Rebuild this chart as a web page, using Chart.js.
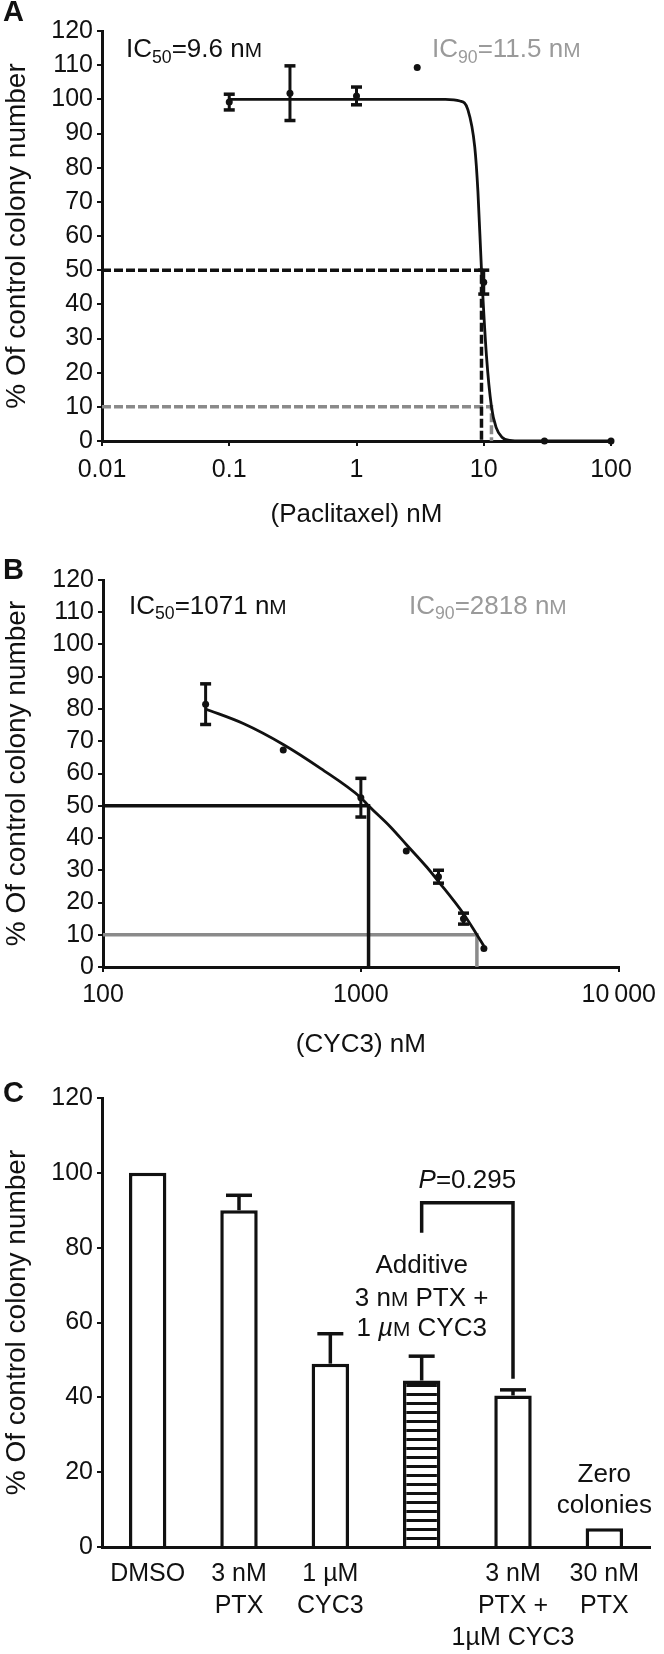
<!DOCTYPE html>
<html lang="en">
<head>
<meta charset="utf-8">
<title>Colony formation: paclitaxel and CYC3</title>
<script src="https://cdn.jsdelivr.net/npm/chart.js@4.4.1/dist/chart.umd.min.js"></script>
<style>
  html, body { margin: 0; padding: 0; background: #fff; }
  .panel { position: absolute; left: 0; width: 664px; }
  canvas { display: block; }
</style>
</head>
<body>
<div class="panel" style="top:0"><canvas id="panelA" width="664" height="530"></canvas></div>
<div class="panel" style="top:530px"><canvas id="panelB" width="664" height="530"></canvas></div>
<div class="panel" style="top:1060px"><canvas id="panelC" width="664" height="594"></canvas></div>
<script>
// Panel A - paclitaxel dose response
const paclitaxelDose = [0.1, 0.3, 1, 3, 10, 30, 100]
const paclitaxelColonies = [99.2, 101.8, 101, 109.3, 46.5, 0, 0]
const paclitaxelError = [2.3, 8, 2.6, 0, 3.5, 0, 0]
const paclitaxelFitDose = [0.1, 1, 5, 6.5, 7.5, 8.5, 9, 9.6, 10.5, 11.5, 12.5, 14, 16, 20, 100]
const paclitaxelFitColonies = [100, 100, 100, 99.5, 97, 86, 73, 50, 25, 10, 4, 1, 0.2, 0, 0]
const paclitaxelIC = [9.6, 11.5]
const paclitaxelTicks = [0.01, 0.1, 1, 10, 100]
const paclitaxelTickLabels = ['0.01', '0.1', '1', '10', '100']

// Panel B - CYC3 dose response
const cyc3Dose = [250, 500, 1000, 1500, 2000, 2500, 3000]
const cyc3Colonies = [81.5, 67.3, 52.5, 36, 28, 15, 5.7]
const cyc3Error = [6.3, 0, 6, 0, 2, 1.7, 0]
const cyc3FitDose = [250, 350, 500, 700, 1000, 1071, 1300, 1500, 1800, 2000, 2500, 2818, 3000]
const cyc3FitColonies = [80, 75.5, 69, 61.5, 52.5, 50, 43.5, 38, 31, 26.5, 16.5, 10, 6.5]
const cyc3IC = [1071, 2818]
const cyc3Ticks = [100, 1000, 10000]
const cyc3TickLabels = ['100', '1000', '10\u2009000']

// Panel C - combination
const treatmentLabels = ['DMSO', ['3 nM', 'PTX'], ['1 \u00b5M', 'CYC3'], '', ['3 nM', 'PTX +', '1\u00b5M CYC3'], ['30 nM', 'PTX']]
const treatmentColonies = [100, 90, 49, 44.5, 40.5, 5]
const treatmentError = [0, 4, 8, 6.5, 1.5, 0]
const additiveIndex = 3
const pBracket = [84, 92, 45] // left foot, top, right foot
const pValue = '0.295'

const icNames = [50, 90]   // IC50 / IC90
const icLevels = [50, 10]  // % of control at those doses

const FONT = '"Liberation Sans", Arial, Helvetica, sans-serif'
const INK = '#111'
const GREY_TEXT = '#9a9a9a'
const GREY_LINE = '#8a8a8a'

Chart.defaults.font.family = FONT
Chart.defaults.color = INK

function fontOf(size, style) {
  return `${style || ''} ${size}px ${FONT}`.trim()
}

// row of text pieces, y is the visual middle of the capitals
// piece flags: sub (subscript), sc (small capital), italic
function drawRuns(ctx, x, y, runs, color, align) {
  ctx.save()
  ctx.fillStyle = color
  ctx.textBaseline = 'alphabetic'
  ctx.textAlign = 'left'
  const base = runs[0].size
  const pieces = runs.map(r => {
    const px = r.sub ? r.size * 0.68 : r.sc ? r.size * 0.8 : r.size
    ctx.font = fontOf(px, r.italic ? 'italic' : '')
    return { ...r, px, w: ctx.measureText(r.text).width }
  })
  const total = pieces.reduce((acc, r) => acc + r.w, 0)
  let cx = align === 'center' ? x - total / 2 : x
  const baseline = y + base * 0.36
  pieces.forEach(r => {
    ctx.font = fontOf(r.px, r.italic ? 'italic' : '')
    ctx.fillText(r.text, cx, baseline + (r.sub ? r.size * 0.22 : 0))
    cx += r.w
  })
  ctx.restore()
}

function icRuns(name, value) {
  return [
    { text: 'IC', size: 26 },
    { text: String(name), size: 26, sub: true },
    { text: `=${value} n`, size: 26 },
    { text: 'M', size: 26, sc: true }
  ]
}

function panelLetter(ctx, letter, y) {
  ctx.save()
  ctx.fillStyle = INK
  ctx.font = fontOf(29, 'bold')
  ctx.textBaseline = 'middle'
  ctx.fillText(letter, 3, y)
  ctx.restore()
}

function icPath(xMin, ic, level) {
  return [{ x: xMin, y: level }, { x: ic, y: level }, { x: ic, y: 0 }]
}

function points(xs, ys) {
  return xs.map((x, i) => ({ x, y: ys[i] }))
}

const errorBars = {
  id: 'errorBars',
  afterDatasetsDraw(chart, args, opts) {
    if (!opts.errors) return
    const { ctx } = chart
    const yScale = chart.scales.y
    const meta = chart.getDatasetMeta(0)
    ctx.save()
    ctx.strokeStyle = INK
    meta.data.forEach((el, i) => {
      const err = opts.errors[i]
      if (!err) return
      const raw = chart.data.datasets[0].data[i]
      const v = typeof raw === 'object' ? raw.y : raw
      const top = yScale.getPixelForValue(v + err)
      const bottom = opts.upOnly ? el.y : yScale.getPixelForValue(v - err)
      ctx.lineWidth = opts.lineWidth
      ctx.beginPath()
      ctx.moveTo(el.x, top)
      ctx.lineTo(el.x, bottom)
      ctx.stroke()
      ctx.lineWidth = opts.capThickness
      const ends = opts.upOnly ? [top] : [top, bottom]
      ends.forEach(py => {
        ctx.beginPath()
        ctx.moveTo(el.x - opts.capWidth / 2, py)
        ctx.lineTo(el.x + opts.capWidth / 2, py)
        ctx.stroke()
      })
    })
    ctx.restore()
  }
}
Chart.register(errorBars)

function yAxis(step, width) {
  return {
    min: 0,
    max: 120,
    afterFit: axis => { axis.width = width },
    ticks: { stepSize: step, autoSkip: false, padding: 4, font: { size: 25 }, color: INK },
    grid: { drawOnChartArea: false, color: INK, lineWidth: 2, tickLength: 5 },
    border: { color: INK, width: 3 },
    title: { display: true, text: '% Of control colony number', font: { size: 28 }, color: INK, padding: 0 }
  }
}

function doseOptions(cfg) {
  return {
    responsive: false,
    animation: false,
    layout: { padding: { left: 0, right: cfg.right, top: cfg.top, bottom: 0 } },
    plugins: {
      legend: { display: false },
      tooltip: { enabled: false },
      errorBars: { errors: cfg.errors, capWidth: 11, capThickness: 3.5, lineWidth: 3 }
    },
    scales: {
      x: {
        type: 'logarithmic',
        min: cfg.ticks[0],
        max: cfg.ticks[cfg.ticks.length - 1],
        afterBuildTicks: axis => { axis.ticks = cfg.ticks.map(value => ({ value })) },
        afterFit: axis => { axis.height = cfg.xHeight },
        ticks: {
          autoSkip: false,
          maxRotation: 0,
          padding: cfg.tickPad,
          font: { size: 25 },
          color: INK,
          callback: (v, i) => cfg.labels[i]
        },
        grid: { drawOnChartArea: false, color: INK, lineWidth: 2, tickLength: 5 },
        border: { color: INK, width: 3 },
        title: { display: true, text: cfg.xTitle, font: { size: 26 }, color: INK, padding: 0 }
      },
      y: yAxis(10, cfg.left)
    }
  }
}

function doseDatasets(dose, colonies, fitDose, fitColonies, ic, xMin, dash) {
  return [
    { data: points(dose, colonies), pointRadius: 3.5, pointBackgroundColor: INK, pointBorderWidth: 0, clip: false },
    { type: 'line', data: points(fitDose, fitColonies), borderColor: INK, borderWidth: 2.8, pointRadius: 0, cubicInterpolationMode: 'monotone' },
    { type: 'line', data: icPath(xMin, ic[0], icLevels[0]), borderColor: INK, borderWidth: 3.5, borderDash: dash, pointRadius: 0 },
    { type: 'line', data: icPath(xMin, ic[1], icLevels[1]), borderColor: GREY_LINE, borderWidth: 3.5, borderDash: dash, pointRadius: 0 }
  ]
}

// Panel A
new Chart(document.getElementById('panelA'), {
  type: 'scatter',
  data: {
    datasets: doseDatasets(paclitaxelDose, paclitaxelColonies, paclitaxelFitDose, paclitaxelFitColonies,
      paclitaxelIC, paclitaxelTicks[0], [9, 3])
  },
  options: doseOptions({
    ticks: paclitaxelTicks, labels: paclitaxelTickLabels, errors: paclitaxelError,
    left: 102, right: 53, top: 31, xHeight: 89, tickPad: 9, xTitle: '(Paclitaxel) nM'
  }),
  plugins: [{
    id: 'textA',
    afterDraw(chart) {
      const { ctx, chartArea: area, scales: { y } } = chart
      panelLetter(ctx, 'A', 13)
      drawRuns(ctx, area.left + 24, y.getPixelForValue(115), icRuns(icNames[0], paclitaxelIC[0]), INK)
      drawRuns(ctx, area.left + 330, y.getPixelForValue(115), icRuns(icNames[1], paclitaxelIC[1]), GREY_TEXT)
    }
  }]
})

// Panel B
new Chart(document.getElementById('panelB'), {
  type: 'scatter',
  data: {
    datasets: doseDatasets(cyc3Dose, cyc3Colonies, cyc3FitDose, cyc3FitColonies,
      cyc3IC, cyc3Ticks[0], [])
  },
  options: doseOptions({
    ticks: cyc3Ticks, labels: cyc3TickLabels, errors: cyc3Error,
    left: 103, right: 38, top: 50, xHeight: 93, tickPad: 8, xTitle: '(CYC3) nM'
  }),
  plugins: [{
    id: 'textB',
    afterDraw(chart) {
      const { ctx, chartArea: area, scales: { y } } = chart
      panelLetter(ctx, 'B', 41)
      drawRuns(ctx, area.left + 26, y.getPixelForValue(112.5), icRuns(icNames[0], cyc3IC[0]), INK)
      drawRuns(ctx, area.left + 306, y.getPixelForValue(112.5), icRuns(icNames[1], cyc3IC[1]), GREY_TEXT)
    }
  }]
})

// Panel C
function stripes() {
  const tile = document.createElement('canvas')
  tile.width = 8
  tile.height = 9
  const g = tile.getContext('2d')
  g.fillStyle = '#fff'
  g.fillRect(0, 0, 8, 9)
  g.fillStyle = INK
  g.fillRect(0, 0, 8, 3)
  return g.createPattern(tile, 'repeat')
}
const hatch = stripes()

new Chart(document.getElementById('panelC'), {
  type: 'bar',
  data: {
    labels: treatmentLabels,
    datasets: [{
      data: treatmentColonies,
      backgroundColor: treatmentColonies.map((_, i) => i === additiveIndex ? hatch : '#fff'),
      borderColor: INK,
      borderWidth: 3.5,
      barPercentage: 0.41,
      categoryPercentage: 1
    }]
  },
  options: {
    responsive: false,
    animation: false,
    layout: { padding: { left: 0, right: 14, top: 38, bottom: 0 } },
    plugins: {
      legend: { display: false },
      tooltip: { enabled: false },
      errorBars: { errors: treatmentError, upOnly: true, capWidth: 26, capThickness: 3.5, lineWidth: 3.5 }
    },
    scales: {
      x: {
        afterFit: axis => { axis.height = 107 },
        ticks: { autoSkip: false, maxRotation: 0, padding: 3, font: { size: 25, lineHeight: 1.28 }, color: INK },
        grid: { display: false },
        border: { color: INK, width: 3 }
      },
      y: yAxis(20, 102)
    }
  },
  plugins: [{
    id: 'textC',
    afterDraw(chart) {
      const { ctx, scales: { x, y } } = chart
      panelLetter(ctx, 'C', 34)
      const xl = x.getPixelForValue(additiveIndex)
      const xr = x.getPixelForValue(additiveIndex + 1)
      ctx.save()
      ctx.strokeStyle = INK
      ctx.lineWidth = 3.5
      ctx.beginPath()
      ctx.moveTo(xl, y.getPixelForValue(pBracket[0]))
      ctx.lineTo(xl, y.getPixelForValue(pBracket[1]))
      ctx.lineTo(xr, y.getPixelForValue(pBracket[1]))
      ctx.lineTo(xr, y.getPixelForValue(pBracket[2]))
      ctx.stroke()
      ctx.restore()

      drawRuns(ctx, (xl + xr) / 2, y.getPixelForValue(98.4),
        [{ text: 'P', size: 26, italic: true }, { text: '=' + pValue, size: 26 }], INK, 'center')
      drawRuns(ctx, xl, y.getPixelForValue(75.7), [{ text: 'Additive', size: 26 }], INK, 'center')
      drawRuns(ctx, xl, y.getPixelForValue(66.8),
        [{ text: '3 n', size: 26 }, { text: 'M', size: 26, sc: true }, { text: ' PTX +', size: 26 }], INK, 'center')
      drawRuns(ctx, xl, y.getPixelForValue(58.8),
        [{ text: '1 ', size: 26 }, { text: '\u00b5', size: 26, italic: true }, { text: 'M', size: 26, sc: true },
         { text: ' CYC3', size: 26 }], INK, 'center')

      const xz = x.getPixelForValue(treatmentColonies.length - 1)
      drawRuns(ctx, xz, y.getPixelForValue(20), [{ text: 'Zero', size: 26 }], INK, 'center')
      drawRuns(ctx, xz, y.getPixelForValue(11.5), [{ text: 'colonies', size: 26 }], INK, 'center')
    }
  }]
})
</script>
</body>
</html>
